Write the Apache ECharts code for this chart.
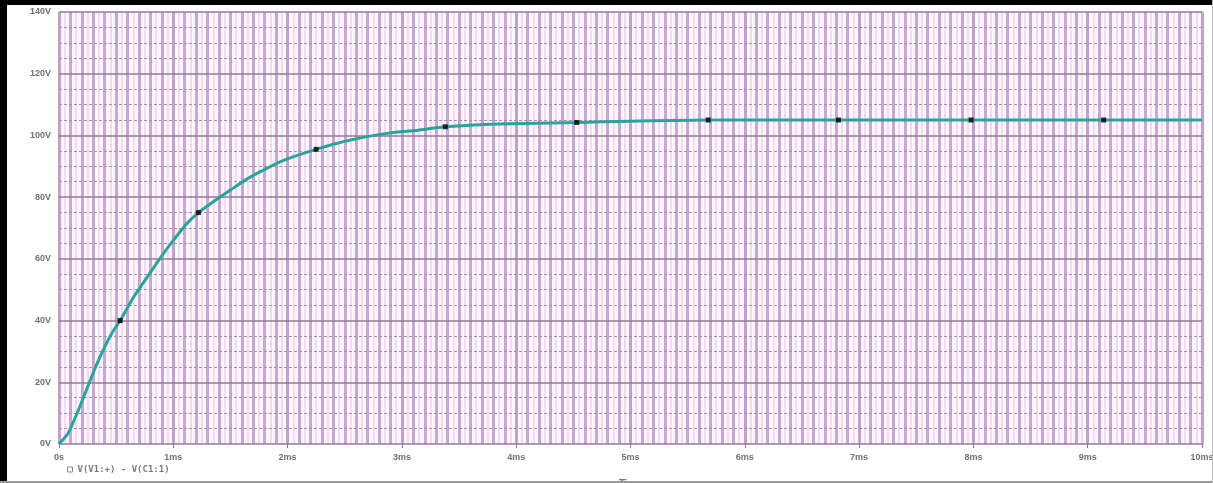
<!DOCTYPE html>
<html>
<head>
<meta charset="utf-8">
<script src="https://cdn.jsdelivr.net/npm/echarts@6/dist/echarts.min.js"></script>
<style>
html,body{margin:0;padding:0;background:#fff;}
#chart{width:1213px;height:483px;}
</style>
</head>
<body>
<div id="chart"></div>
<script>
// Time in ms, voltage in V
const timeMs  = [0, 0.08, 0.17, 0.24, 0.32, 0.40, 0.48, 0.535, 0.65, 0.77, 0.89, 1.0, 1.12, 1.22, 1.35, 1.5, 1.65, 1.8, 1.97, 2.25, 2.55, 2.84, 3.14, 3.38, 3.84, 4.53, 5.0, 5.68, 6.5, 7.5, 8.5, 9.5, 10];
const voltage = [0, 3.5, 11, 17.5, 25, 31.5, 37, 40, 47.5, 54, 60.5, 66, 71.5, 75, 78.5, 82.3, 86, 89, 92, 95.5, 98.5, 100.5, 101.7, 102.8, 103.7, 104.2, 104.6, 105, 105, 105, 105, 105, 105];
// Trace markers
const markerTimes  = [0.535, 1.22, 2.25, 3.38, 4.53, 5.68, 6.82, 7.98, 9.14];
const markerValues = [40, 75, 95.5, 102.8, 104.2, 105, 105, 105, 105];
// Tick labels
const xTickLabels = ['0s','1ms','2ms','3ms','4ms','5ms','6ms','7ms','8ms','9ms','10ms'];
const yTickLabels = ['0V','20V','40V','60V','80V','100V','120V','140V'];
const seriesName = 'V(V1:+) - V(C1:1)';

const lineData = timeMs.map((t, i) => [t, voltage[i]]);
const markerData = markerTimes.map((t, i) => [t, markerValues[i]]);

const chart = echarts.init(document.getElementById('chart'), null, {renderer: 'canvas'});
const labelFont = {color: '#707070', fontSize: 9, fontFamily: 'Liberation Sans', fontWeight: 'bold'};

chart.setOption({
  animation: false,
  backgroundColor: '#ffffff',
  grid: {left: 59, right: 11, top: 12, bottom: 39, show: true, backgroundColor: '#fdf7fd', borderWidth: 0,
         containLabel: false, outerBoundsMode: 'none'},
  legend: {
    show: true, left: 62, top: 460, itemWidth: 5, itemHeight: 5, itemGap: 4,
    icon: 'rect',
    textStyle: {color: '#7a7a7a', fontSize: 9, fontFamily: 'DejaVu Sans Mono', fontWeight: 'bold'},
    data: [{name: seriesName, itemStyle: {color: '#fff', borderColor: '#888', borderWidth: 1}}]
  },
  xAxis: [
    {
      type: 'value', min: 0, max: 10, interval: 1, z: 2,
      name: 'Time', nameLocation: 'middle', nameGap: 35,
      nameTextStyle: {color: '#777', fontSize: 10, fontFamily: 'Liberation Sans', fontWeight: 'bold'},
      axisLine: {show: false},
      axisTick: {show: true, length: 4, lineStyle: {color: '#8a7a8e'}},
      axisLabel: Object.assign({margin: 9, formatter: v => xTickLabels[Math.round(v)]}, labelFont),
      splitLine: {show: true, lineStyle: {color: '#c59fce', width: 3}},
      minorTick: {show: false, splitNumber: 10},
      minorSplitLine: {show: true, lineStyle: {color: '#caa6d2', width: 3}}
    },
    {
      type: 'value', min: 0, max: 10, interval: 1, z: 1, show: true,
      axisLine: {show: false}, axisTick: {show: false}, axisLabel: {show: false},
      splitLine: {show: false},
      minorTick: {show: false, splitNumber: 20},
      minorSplitLine: {show: true, lineStyle: {color: '#efdcf1', width: 2}}
    }
  ],
  yAxis: {
    type: 'value', min: 0, max: 140, interval: 20, z: 3,
    axisLine: {show: false},
    axisTick: {show: false},
    axisLabel: Object.assign({margin: 8, formatter: v => yTickLabels[Math.round(v / 20)]}, labelFont),
    splitLine: {show: true, lineStyle: {color: '#8e7c93', width: 1.5}},
    minorTick: {show: false, splitNumber: 4},
    minorSplitLine: {show: true, lineStyle: {color: '#a292a8', width: 1, type: [3, 2]}}
  },
  series: [
    {
      name: seriesName, type: 'line', xAxisIndex: 0, data: lineData,
      smooth: 0.2, showSymbol: false, z: 5,
      lineStyle: {color: '#2aa39b', width: 3},
      itemStyle: {color: '#2aa39b'}
    },
    {
      name: 'markers', type: 'scatter', xAxisIndex: 0, data: markerData,
      symbol: 'rect', symbolSize: 5, z: 6,
      itemStyle: {color: '#000'}
    }
  ],
  graphic: [
    {type: 'rect', left: 0, top: 0, shape: {width: 7, height: 483}, style: {fill: '#000'}, z: 100},
    {type: 'rect', left: 0, top: 0, shape: {width: 1213, height: 5}, style: {fill: '#000'}, z: 100},
    {type: 'rect', left: 0, top: 481, shape: {width: 1213, height: 2}, style: {fill: '#9a9a9a'}, z: 100},
    {type: 'rect', left: 1212, top: 0, shape: {width: 1, height: 483}, style: {fill: '#bdbdbd'}, z: 100}
  ]
});
</script>
</body>
</html>
